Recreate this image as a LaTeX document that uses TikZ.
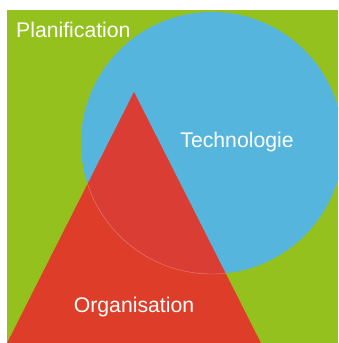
\documentclass[tikz,border=0pt]{standalone}
\usepackage{fontspec}
\setmainfont{Liberation Sans}
\usepackage{xcolor}
\definecolor{planGreen}{HTML}{95C11F}
\definecolor{techBlue}{HTML}{56B5DD}
\definecolor{orgRed}{HTML}{E2372A}
\begin{document}
\begin{tikzpicture}[x=1pt,y=-1pt]
  		\def\radiusTech{131}
  		\tikzset{label/.style={text=white,inner sep=0pt,font=\fontsize{21.2}{25}\selectfont}}
  		\useasboundingbox (0,0) rectangle (338,343);
  		\clip (7,10) rectangle (338,343);
  		\fill[planGreen] (7,10) rectangle (338,343);
  		\fill[techBlue] (212,143) circle (\radiusTech);
  		\coordinate (apex) at (134,92);
  		\coordinate (left) at (0,357);
  		\coordinate (right) at (268,357);
  		\fill[orgRed,opacity=0.95] (apex) -- (left) -- (right) -- cycle;
  		\begin{scope}
  			\clip (apex) -- (left) -- (right) -- cycle;
  			\draw[white,opacity=0.35,line width=0.4pt] (212,143) circle (\radiusTech);
  		\end{scope}
  		\node[label,anchor=base west] (plan) at (16,37) {Planification};
  		\node[label,anchor=base] (tech) at (237,147) {Technologie};
  		\node[label,anchor=base] (org) at (134,312) {Organisation};
  	\end{tikzpicture}
\end{document}
